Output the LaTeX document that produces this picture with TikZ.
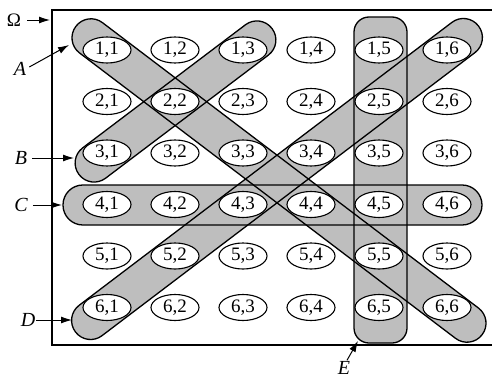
\documentclass[tikz,border=0pt]{standalone}
\usepackage{fontspec}
\setmainfont{Liberation Serif}
\usetikzlibrary{arrows.meta,shapes.geometric}
\definecolor{bandgray}{RGB}{190,190,190}
\tikzset{
  bandfill/.style={fill=bandgray,draw=none},
  bandline/.style={draw=black,line width=1.3pt},
  cell/.style={ellipse,draw=black,fill=white,line width=1.1pt,minimum width=48pt,minimum height=26pt,inner sep=0pt,font=\fontsize{19}{19}\selectfont},
  lab/.style={font=\fontsize{20}{20}\selectfont\itshape,inner sep=0pt},
  pointer/.style={-{Latex[length=11pt,width=7pt]},line width=1pt},
}
\newcommand\bandshapes[1]{%
  % band A
  \path[#1,shift={(279,180.5)},rotate=-37.2,rounded corners=18.9pt] (-255,-19) rectangle (255,19);
  % band B
  \path[#1,shift={(175.5,101.5)},rotate=37.1,rounded corners=18.9pt] (-121,-19) rectangle (121,19);
  % band D
  \path[#1,shift={(277,179)},rotate=37.2,rounded corners=18.9pt] (-253,-19) rectangle (253,19);
  % band C
  \path[#1,rounded corners=19.9pt] (63,185) rectangle (482,225);
  % band E
  \path[#1,rounded corners=15pt] (354,17) rectangle (407,343);
}
\begin{document}
\begin{tikzpicture}[x=1pt,y=-1pt]
\useasboundingbox (0,0) rectangle (492,380);
\fill[white] (0,0) rectangle (492,380);
\draw[line width=1.2pt] (496,10) -- (52,10) -- (52,345) -- (496,345);
\bandshapes{bandfill}
\bandshapes{bandline}
\foreach \r/\y in {1/50,2/101.5,3/153,4/204.5,5/256,6/307.5}{
  \foreach \c/\x in {1/107,2/175,3/243,4/311,5/379,6/447}{
    \node[cell] (c\r\c) at (\x,\y) {\r,\c};
  }
}
\node[font=\fontsize{19}{19}\selectfont,inner sep=0pt] (om) at (14,20) {Ω};
\coordinate (omt) at (50,20);
\draw[pointer] (om.east) ++(6,0) -- (omt);
\node[lab] (la) at (20,69) {A};
\coordinate (at) at (69,45);
\draw[pointer] (la.east) ++(3,-2) -- (at);
\node[lab] (lb) at (21,158) {B};
\coordinate (bt) at (74,158);
\draw[pointer] (lb.east) ++(5,0) -- (bt);
\node[lab] (lc) at (21,205) {C};
\coordinate (ct) at (62,205);
\draw[pointer] (lc.east) ++(5,0) -- (ct);
\node[lab] (ld) at (28,320) {D};
\coordinate (dt) at (72,320);
\draw[pointer] (ld.east) ++(1,0) -- (dt);
\node[lab] (le) at (344,368) {E};
\coordinate (et) at (358,341);
\draw[pointer] (le.north) ++(3,-1) -- (et);
\end{tikzpicture}
\end{document}
